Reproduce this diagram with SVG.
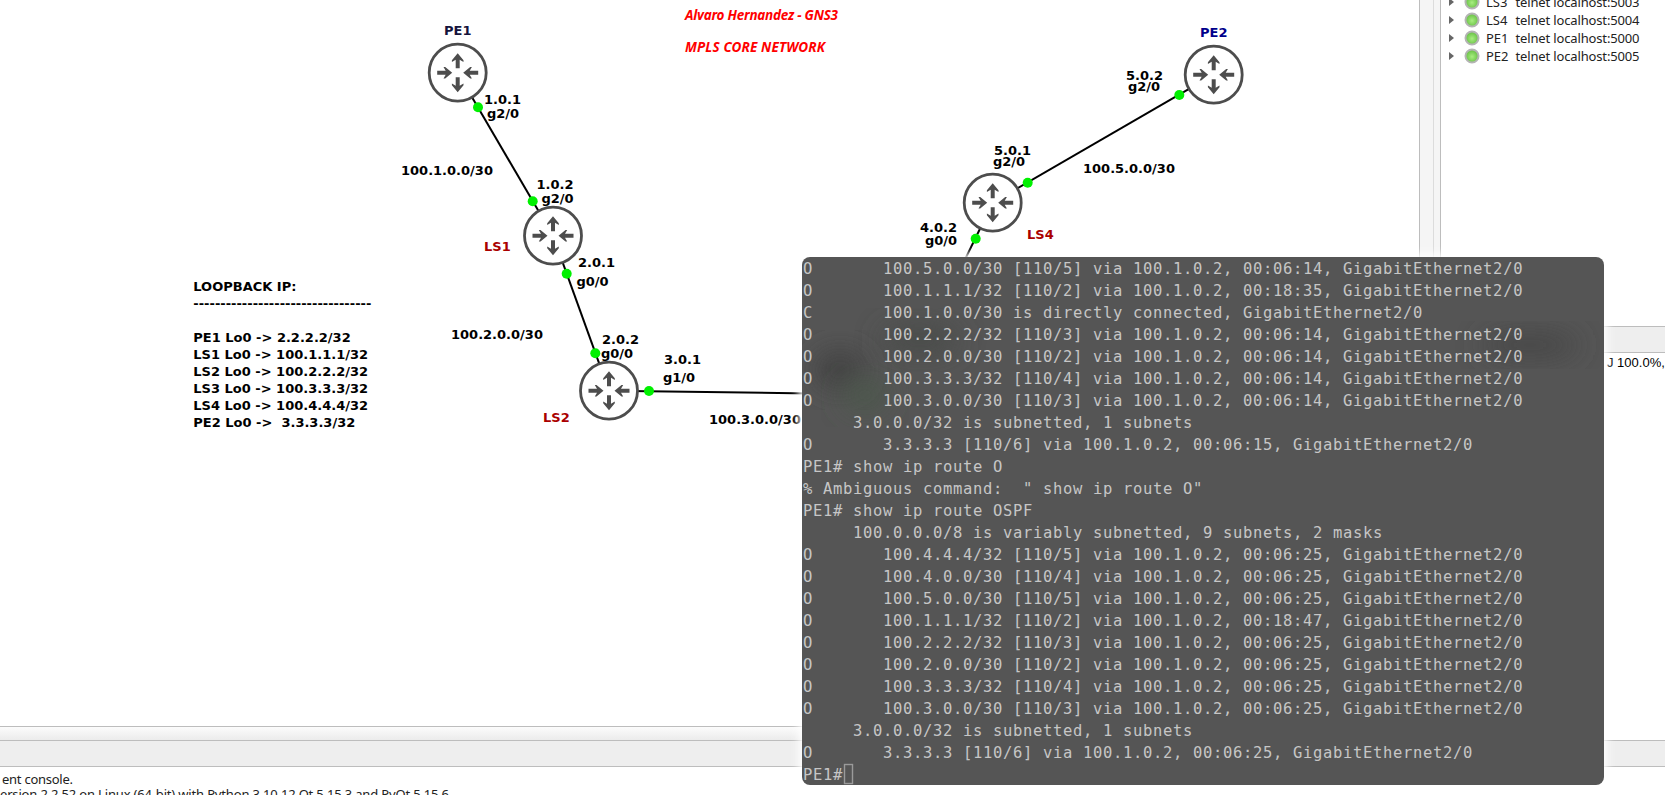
<svg xmlns="http://www.w3.org/2000/svg" width="1665" height="795" viewBox="0 0 1665 795">
<style>
.l{font-family:"DejaVu Sans",sans-serif;font-weight:700;font-size:13px;fill:#000;white-space:pre}
.ls{fill:#aa0000}
.ui{font-family:"Noto Sans","Open Sans",sans-serif;font-size:13px;fill:#222}
.t{font-family:"DejaVu Sans Mono",monospace;font-size:15.5px;letter-spacing:.67px;fill:#c6c6c6;white-space:pre}
.title{font-family:"Noto Sans",sans-serif;font-style:italic;font-weight:700;font-size:13.5px;fill:#ff0000}
.link{stroke:#000;stroke-width:2;fill:none}
.port{fill:#00f000}
.sep{stroke:#bdbdbd;stroke-width:1;fill:none}
.led{fill:url(#ledg);stroke:#b4b4b4;stroke-width:2}
.tri{fill:#666}
</style>
<defs>
<g id="router">
<circle r="28.5" fill="#fff" stroke="#4d4d4d" stroke-width="2.8"/>
<g fill="#4d4d4d">
<path d="M0-19.500 5.800-12.500 5.800-10.800 2-13 2-4.500-2-4.500-2-13-5.800-10.800-5.800-12.500Z"/>
<path d="M0-19.500 5.800-12.500 5.800-10.800 2-13 2-4.500-2-4.500-2-13-5.800-10.800-5.800-12.500Z" transform="rotate(180)"/>
<path d="M0-5.500 5.800-12.500 5.800-14.200 2-12 2-20.500-2-20.500-2-12-5.800-14.200-5.800-12.500Z" transform="rotate(90)"/>
<path d="M0-5.500 5.800-12.500 5.800-14.200 2-12 2-20.500-2-20.500-2-12-5.800-14.200-5.800-12.500Z" transform="rotate(-90)"/>
</g>
</g>
<radialGradient id="ledg" cx=".5" cy=".55" r=".6"><stop offset="0" stop-color="#a8ee80"/><stop offset="1" stop-color="#5cb83a"/></radialGradient>
<linearGradient id="tab" x1="0" x2="0" y1="0" y2="1"><stop offset="0" stop-color="#fdfdfd"/><stop offset="1" stop-color="#eaeaea"/></linearGradient>
<filter id="glow" x="-5%" y="-5%" width="110%" height="110%"><feGaussianBlur stdDeviation="4"/></filter>
<filter id="blur" x="-50%" y="-50%" width="200%" height="200%"><feGaussianBlur stdDeviation="14"/></filter>
<clipPath id="term"><rect x="802" y="257" width="802" height="528" rx="8"/></clipPath>
</defs>

<rect width="1665" height="795" fill="#fff"/>

<g id="chrome">
<rect x="1420" y="0" width="21" height="258" fill="#f5f5f5"/>
<path class="sep" d="M1419.500 0V258M1440.500 0V258"/>
<path stroke="#dcdcdc" fill="none" d="M1433.500 0V258"/>
<rect x="1604" y="326" width="61" height="26" fill="#eeeeee"/>
<path class="sep" d="M1604 326.500H1665M1604 352.500H1665"/>
<text x="1607" y="367" font-family="Liberation Sans,sans-serif" font-size="13" fill="#000">J 100.0%,</text>
<rect x="0" y="726" width="802" height="15" fill="url(#tab)"/>
<rect x="0" y="741" width="1665" height="25" fill="#eeeeee"/>
<path class="sep" d="M0 726.500H802M0 740.500H1665M0 766.500H1665"/>
<text class="ui" x="2" y="784" textLength="71">ent console.</text>
<text class="ui" x="0" y="799" textLength="449">ersion 2.2.52 on Linux (64-bit) with Python 3.10.12 Qt 5.15.3 and PyQt 5.15.6</text>
<g id="tree">
<path class="tri" d="M1449 -2l5 4-5 4zM1449 16l5 4-5 4zM1449 34l5 4-5 4zM1449 52l5 4-5 4z"/>
<circle class="led" cx="1472" cy="2" r="6.500"/><circle class="led" cx="1472" cy="20" r="6.500"/><circle class="led" cx="1472" cy="38" r="6.500"/><circle class="led" cx="1472" cy="56" r="6.500"/>
<text class="ui" x="1486" y="7">LS3</text><text class="ui" x="1515.500" y="7" textLength="124">telnet localhost:5003</text>
<text class="ui" x="1486" y="25">LS4</text><text class="ui" x="1515.500" y="25" textLength="124">telnet localhost:5004</text>
<text class="ui" x="1486" y="43">PE1</text><text class="ui" x="1515.500" y="43" textLength="124">telnet localhost:5000</text>
<text class="ui" x="1486" y="61">PE2</text><text class="ui" x="1515.500" y="61" textLength="124">telnet localhost:5005</text>
</g>
</g>

<g id="connectors">
<path class="link" d="M457.700 72.700L553 235.700"/>
<path class="link" d="M553 235.700L609 390.700"/>
<path class="link" d="M609 390.700L810 393.500"/>
<path class="link" d="M992.700 202.700L955 280"/>
<path class="link" d="M992.700 202.700L1213.700 74.700"/>
</g>

<g id="PE1"><use href="#router" x="457.700" y="72.700"/><text class="l" x="444" y="35" style="fill:#14143c">PE1</text></g>
<g id="LS1"><use href="#router" x="553" y="235.700"/><text class="l ls" x="484" y="251">LS1</text></g>
<g id="LS2"><use href="#router" x="609" y="390.700"/><text class="l ls" x="543" y="422">LS2</text></g>
<g id="LS4"><use href="#router" x="992.700" y="202.700"/><text class="l ls" x="1027" y="238.700">LS4</text></g>
<g id="PE2"><use href="#router" x="1213.700" y="74.700"/><text class="l" x="1200" y="37" style="fill:#00008b">PE2</text></g>

<g id="ports">
<circle class="port" cx="478" cy="107.300" r="5"/>
<circle class="port" cx="532.700" cy="201.300" r="5"/>
<circle class="port" cx="566.700" cy="273.700" r="5"/>
<circle class="port" cx="595.300" cy="353.300" r="5"/>
<circle class="port" cx="649" cy="391" r="5"/>
<circle class="port" cx="975.700" cy="238.700" r="5"/>
<circle class="port" cx="1027.700" cy="182.700" r="5"/>
<circle class="port" cx="1179.300" cy="95" r="5"/>
</g>

<g id="labels">
<text class="l" x="484" y="104">1.0.1</text>
<text class="l" x="487" y="118">g2/0</text>
<text class="l" x="401" y="175">100.1.0.0/30</text>
<text class="l" x="536.500" y="189">1.0.2</text>
<text class="l" x="541.500" y="203">g2/0</text>
<text class="l" x="578" y="267">2.0.1</text>
<text class="l" x="576.500" y="286">g0/0</text>
<text class="l" x="451" y="338.700">100.2.0.0/30</text>
<text class="l" x="602" y="343.700">2.0.2</text>
<text class="l" x="601" y="358.300">g0/0</text>
<text class="l" x="664" y="364">3.0.1</text>
<text class="l" x="663" y="382">g1/0</text>
<text class="l" x="709" y="424">100.3.0.0/30</text>
<text class="l" x="1126" y="80">5.0.2</text>
<text class="l" x="1128" y="90.700">g2/0</text>
<text class="l" x="994" y="155">5.0.1</text>
<text class="l" x="993" y="166">g2/0</text>
<text class="l" x="1083" y="173">100.5.0.0/30</text>
<text class="l" x="920" y="232">4.0.2</text>
<text class="l" x="925" y="245">g0/0</text>
<text class="title" x="685" y="20" textLength="153">Alvaro Hernandez - GNS3</text>
<text class="title" x="685" y="51.700" textLength="140">MPLS CORE NETWORK</text>
</g>

<g id="loopback">
<text class="l" x="193.300" y="290.700">LOOPBACK IP:</text>
<text class="l" x="193.300" y="307.700">---------------------------------</text>
<text class="l" x="193.300" y="341.700">PE1 Lo0 -&gt; 2.2.2.2/32</text>
<text class="l" x="193.300" y="358.700">LS1 Lo0 -&gt; 100.1.1.1/32</text>
<text class="l" x="193.300" y="375.700">LS2 Lo0 -&gt; 100.2.2.2/32</text>
<text class="l" x="193.300" y="392.700">LS3 Lo0 -&gt; 100.3.3.3/32</text>
<text class="l" x="193.300" y="409.700">LS4 Lo0 -&gt; 100.4.4.4/32</text>
<text class="l" x="193.300" y="426.700">PE2 Lo0 -&gt;  3.3.3.3/32</text>
</g>

<g id="terminal">
<rect x="799" y="254" width="808" height="534" rx="10" fill="#fff" filter="url(#glow)"/>
<rect x="802" y="257" width="802" height="528" rx="8" fill="#555555"/>
<g clip-path="url(#term)">
<ellipse cx="840" cy="370" rx="26" ry="20" fill="#424242" filter="url(#blur)"/>
<ellipse cx="920" cy="340" rx="40" ry="16" fill="#484b48" filter="url(#blur)"/>
<ellipse cx="865" cy="395" rx="22" ry="16" fill="#4c584c" filter="url(#blur)"/>
<ellipse cx="1530" cy="345" rx="50" ry="12" fill="#454545" filter="url(#blur)"/>
</g>
<g xml:space="preserve">
<text class="t" x="803" y="274">O       100.5.0.0/30 [110/5] via 100.1.0.2, 00:06:14, GigabitEthernet2/0</text>
<text class="t" x="803" y="296">O       100.1.1.1/32 [110/2] via 100.1.0.2, 00:18:35, GigabitEthernet2/0</text>
<text class="t" x="803" y="318">C       100.1.0.0/30 is directly connected, GigabitEthernet2/0</text>
<text class="t" x="803" y="340">O       100.2.2.2/32 [110/3] via 100.1.0.2, 00:06:14, GigabitEthernet2/0</text>
<text class="t" x="803" y="362">O       100.2.0.0/30 [110/2] via 100.1.0.2, 00:06:14, GigabitEthernet2/0</text>
<text class="t" x="803" y="384">O       100.3.3.3/32 [110/4] via 100.1.0.2, 00:06:14, GigabitEthernet2/0</text>
<text class="t" x="803" y="406">O       100.3.0.0/30 [110/3] via 100.1.0.2, 00:06:14, GigabitEthernet2/0</text>
<text class="t" x="803" y="428">     3.0.0.0/32 is subnetted, 1 subnets</text>
<text class="t" x="803" y="450">O       3.3.3.3 [110/6] via 100.1.0.2, 00:06:15, GigabitEthernet2/0</text>
<text class="t" x="803" y="472">PE1# show ip route O</text>
<text class="t" x="803" y="494">% Ambiguous command:  " show ip route O"</text>
<text class="t" x="803" y="516">PE1# show ip route OSPF</text>
<text class="t" x="803" y="538">     100.0.0.0/8 is variably subnetted, 9 subnets, 2 masks</text>
<text class="t" x="803" y="560">O       100.4.4.4/32 [110/5] via 100.1.0.2, 00:06:25, GigabitEthernet2/0</text>
<text class="t" x="803" y="582">O       100.4.0.0/30 [110/4] via 100.1.0.2, 00:06:25, GigabitEthernet2/0</text>
<text class="t" x="803" y="604">O       100.5.0.0/30 [110/5] via 100.1.0.2, 00:06:25, GigabitEthernet2/0</text>
<text class="t" x="803" y="626">O       100.1.1.1/32 [110/2] via 100.1.0.2, 00:18:47, GigabitEthernet2/0</text>
<text class="t" x="803" y="648">O       100.2.2.2/32 [110/3] via 100.1.0.2, 00:06:25, GigabitEthernet2/0</text>
<text class="t" x="803" y="670">O       100.2.0.0/30 [110/2] via 100.1.0.2, 00:06:25, GigabitEthernet2/0</text>
<text class="t" x="803" y="692">O       100.3.3.3/32 [110/4] via 100.1.0.2, 00:06:25, GigabitEthernet2/0</text>
<text class="t" x="803" y="714">O       100.3.0.0/30 [110/3] via 100.1.0.2, 00:06:25, GigabitEthernet2/0</text>
<text class="t" x="803" y="736">     3.0.0.0/32 is subnetted, 1 subnets</text>
<text class="t" x="803" y="758">O       3.3.3.3 [110/6] via 100.1.0.2, 00:06:25, GigabitEthernet2/0</text>
<text class="t" x="803" y="780">PE1#</text>
</g>
<rect x="844.500" y="764.500" width="8" height="19" fill="none" stroke="#9a9a9a" stroke-width="1.400"/>
</g>
</svg>
